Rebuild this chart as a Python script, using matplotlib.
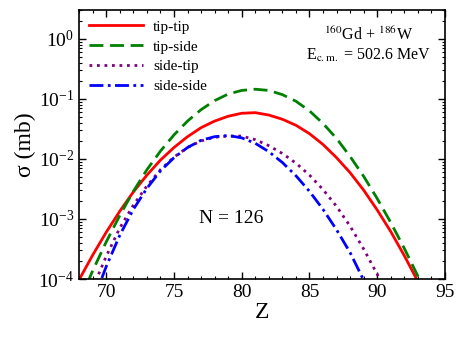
import matplotlib
matplotlib.use("Agg")
import matplotlib.pyplot as plt
import numpy as np

plt.rcParams['font.family'] = ['Liberation Serif', 'DejaVu Serif']
plt.rcParams['mathtext.fontset'] = 'stix'

# --- dados (log10 de sigma em mb) ---
z_tt = [68, 69, 70, 71, 72, 73, 74, 75, 76, 77, 78, 79, 80, 81, 82, 83, 84, 85, 86, 87, 88, 89, 90, 91, 92, 93, 94]
log_tt = [-4.01, -3.60, -3.22, -2.87, -2.55, -2.27, -2.02, -1.81, -1.63, -1.48, -1.37, -1.29, -1.24, -1.23,
          -1.27, -1.34, -1.44, -1.58, -1.76, -1.98, -2.23, -2.52, -2.85, -3.21, -3.61, -4.04, -4.50]

z_ts = [68, 69, 70, 71, 72, 73, 74, 75, 76, 77, 78, 79, 80, 81, 82, 83, 84, 85, 86, 87, 88, 89, 90, 91, 92, 93, 94]
log_ts = [-4.39, -3.86, -3.38, -2.94, -2.54, -2.18, -1.87, -1.60, -1.37, -1.18, -1.03, -0.92, -0.86, -0.84,
          -0.86, -0.93, -1.04, -1.20, -1.41, -1.66, -1.96, -2.29, -2.66, -3.06, -3.49, -3.95, -4.45]

z_st = [69, 70, 71, 72, 73, 74, 75, 76, 77, 78, 79, 80, 81, 82, 83, 84, 85, 86, 87, 88, 89, 90, 91]
log_st = [-4.15, -3.62, -3.15, -2.77, -2.45, -2.18, -1.97, -1.81, -1.70, -1.64, -1.62, -1.62, -1.68,
          -1.78, -1.91, -2.07, -2.27, -2.51, -2.79, -3.12, -3.50, -3.92, -4.40]

z_ss = [69, 70, 71, 72, 73, 74, 75, 76, 77, 78, 79, 80, 81, 82, 83, 84, 85, 86, 87, 88, 89, 90]
log_ss = [-4.38, -3.79, -3.27, -2.84, -2.49, -2.20, -1.98, -1.81, -1.69, -1.63, -1.61, -1.65, -1.74,
          -1.88, -2.06, -2.28, -2.54, -2.84, -3.18, -3.56, -4.02, -4.50]

fig = plt.figure(figsize=(4.63, 3.37), dpi=100)
ax = fig.add_axes([0.171, 0.172, 0.790, 0.798])

ax.plot(z_tt, 10 ** np.array(log_tt), color='red', lw=2.0, ls='-', label='tip-tip')
ax.plot(z_ts, 10 ** np.array(log_ts), color='#008000', lw=2.0, ls=(0, (5, 2.4)), label='tip-side')
ax.plot(z_st, 10 ** np.array(log_st), color='#800080', lw=2.0, ls=(0, (1, 1.7)), label='side-tip')
ax.plot(z_ss, 10 ** np.array(log_ss), color='blue', lw=2.0, ls=(0, (5, 1.6, 1, 1.6)), label='side-side')

ax.set_yscale('log')
ax.set_xlim(68, 95)
ax.set_ylim(1e-4, 3.0)
ax.set_xticks([70, 75, 80, 85, 90, 95])
ax.xaxis.set_minor_locator(matplotlib.ticker.MultipleLocator(1))
ax.set_yticks([1e-4, 1e-3, 1e-2, 1e-1, 1e0])
ax.yaxis.set_minor_locator(matplotlib.ticker.LogLocator(base=10, subs=np.arange(2, 10), numticks=20))
ax.yaxis.set_minor_formatter(matplotlib.ticker.NullFormatter())

ax.tick_params(which='both', direction='in', top=True, right=True, labelsize=14)
ax.tick_params(which='major', length=5, width=1)
ax.tick_params(which='minor', length=2.5, width=0.8)
for s in ax.spines.values():
    s.set_linewidth(1.2)

ax.set_xlabel('Z', fontsize=17, labelpad=1)
ax.set_ylabel('σ (mb)', fontsize=17, labelpad=2)

ax.legend(loc='upper left', frameon=False, fontsize=11, handlelength=3.5,
          labelspacing=0.4, borderaxespad=0.25, handletextpad=0.7)

ax.text(0.792, 0.87, '$^{160}$Gd + $^{186}$W\nE$_{\\rm c.m.}$ = 502.6 MeV',
        transform=ax.transAxes, ha='center', va='center', multialignment='center', fontsize=11.5)
ax.text(79.2, 1e-3, 'N = 126', ha='center', va='center', fontsize=14)

fig.savefig('out.png', dpi=100)
